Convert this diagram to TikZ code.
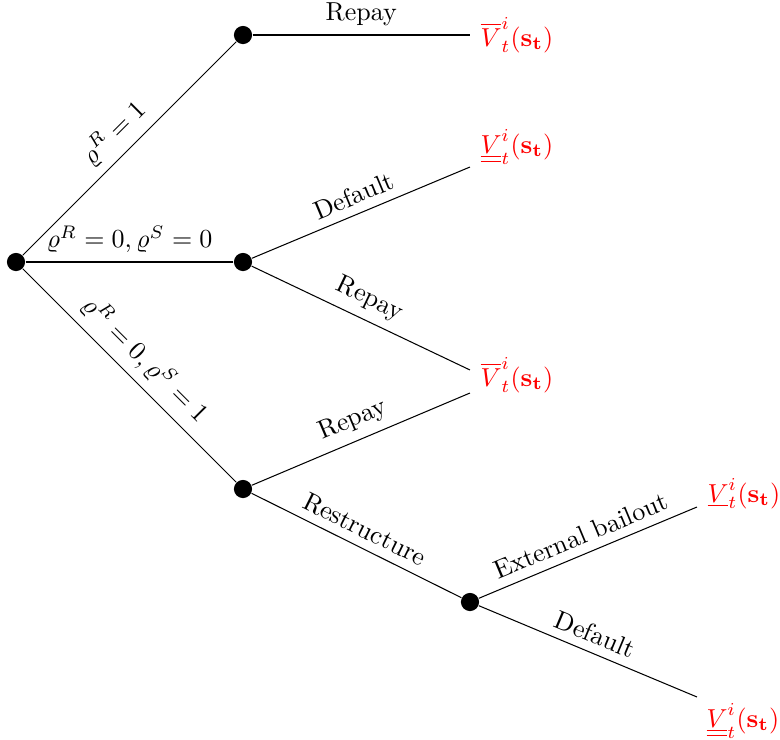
\documentclass[tikz,border=0pt]{standalone}
\usepackage{amsmath}
\begin{document}
\begin{tikzpicture}[x=0.3846pt,y=-0.3846pt,
  dot/.style={circle,fill=black,inner sep=0pt,minimum size=7pt},
  lab/.style={midway,above,sloped},
  term/.style={text=red,anchor=base west,inner sep=0pt}]
\useasboundingbox (0,0) rectangle (780,740);
% decision nodes
\node[dot] (r) at (16,262) {};
\node[dot] (a) at (243,35) {};
\node[dot] (b) at (243,262) {};
\node[dot] (c) at (243,489) {};
\node[dot] (d) at (470,602) {};
% connector ends
\coordinate (e1) at (470,35);
\coordinate (e2) at (470,167);
\coordinate (e3) at (470,370);
\coordinate (e4) at (470,393);
\coordinate (e5) at (697,507);
\coordinate (e6) at (697,697);
% terminal values
\node[term] (t1) at (480,46) {$\overline{V}^i_t(\mathbf{s_t})$};
\node[term] (t2) at (480,153) {$\underline{\underline{V}}^i_t(\mathbf{s_t})$};
\node[term] (t3) at (480,386) {$\overline{V}^i_t(\mathbf{s_t})$};
\node[term] (t4) at (707,502) {$\underline{V}^i_t(\mathbf{s_t})$};
\node[term] (t5) at (706,727) {$\underline{\underline{V}}^i_t(\mathbf{s_t})$};
% connectors
\draw (r) -- node[lab] {$\varrho^R = 1$} (a);
\draw (r) -- node[lab] {$\varrho^R = 0, \varrho^S = 0$} (b);
\draw (r) -- node[lab] {$\varrho^R = 0, \varrho^S = 1$} (c);
\draw (a) -- node[lab] {Repay} (e1);
\draw (b) -- node[lab] {Default} (e2);
\draw (b) -- node[lab] {Repay} (e3);
\draw (c) -- node[lab] {Repay} (e4);
\draw (c) -- node[lab] {Restructure} (d);
\draw (d) -- node[lab] {External bailout} (e5);
\draw (d) -- node[lab] {Default} (e6);
\end{tikzpicture}
\end{document}
